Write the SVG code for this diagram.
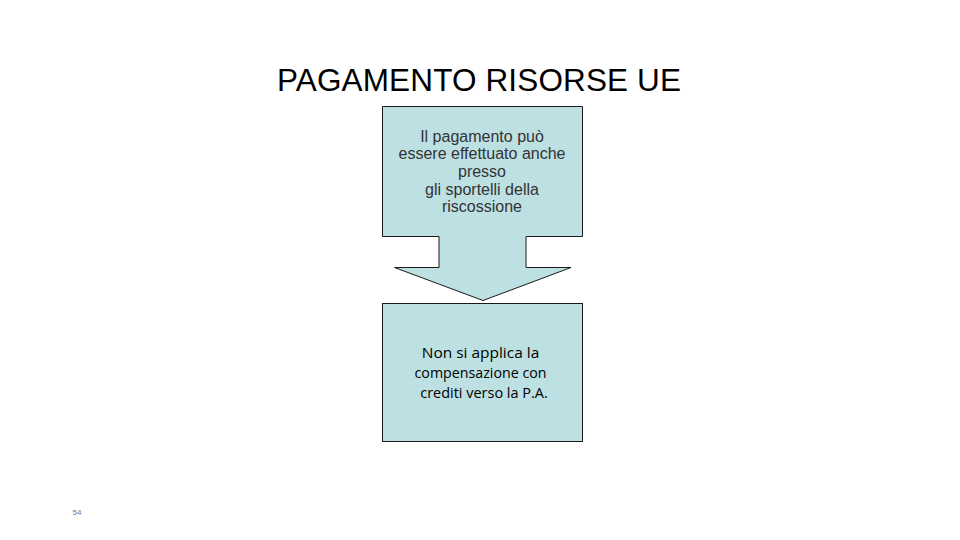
<svg xmlns="http://www.w3.org/2000/svg" width="960" height="540" viewBox="0 0 960 540">
<style>
.shape{fill:#BDE0E3;stroke:#1a1a1a;stroke-width:1}
.t1{font-family:"Liberation Sans",Arial,sans-serif;font-size:16px;fill:#333;text-anchor:middle}
.t2{font-family:"Open Sans","Liberation Sans",sans-serif;font-size:14.5px;fill:#000;text-anchor:middle}
.title{font-family:"Liberation Sans",Arial,sans-serif;font-size:31.5px;fill:#000}
</style>
<rect width="960" height="540" fill="#fff"/>
<text class="title" x="277" y="91" textLength="404">PAGAMENTO RISORSE UE</text>
<g id="callout">
<path class="shape" d="M382.5,106.5 H582.5 V236.5 H526 V267.5 H571 L483,300.5 L394.5,267.5 H439 V236.5 H382.5 Z"/>
<text class="t1" x="482" y="141.5">Il pagamento può</text>
<text class="t1" x="482" y="159.2">essere effettuato anche</text>
<text class="t1" x="482" y="176.9">presso</text>
<text class="t1" x="482" y="194.6">gli sportelli della</text>
<text class="t1" x="482" y="212.3">riscossione</text>
</g>
<g id="box2">
<rect class="shape" x="382.5" y="303.5" width="200" height="138"/>
<text class="t2" x="480.5" y="358.3" textLength="117.5" lengthAdjust="spacingAndGlyphs">Non si applica la</text>
<text class="t2" x="480.5" y="378.3" textLength="132" lengthAdjust="spacingAndGlyphs">compensazione con</text>
<text class="t2" x="484" y="398" textLength="127.5" lengthAdjust="spacingAndGlyphs">crediti verso la P.A.</text>
</g>
<g id="connectors"></g>
<text x="72.5" y="515" font-family="Liberation Sans,Arial,sans-serif" font-size="8" fill="#777">54</text>
</svg>
